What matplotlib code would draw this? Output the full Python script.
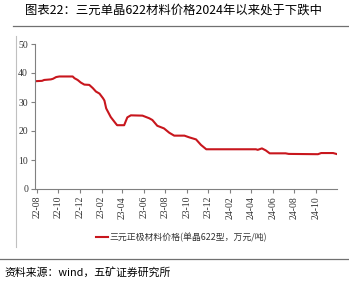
import matplotlib
matplotlib.use("Agg")
import matplotlib.pyplot as plt
import matplotlib.dates as mdates
import pandas as pd
from matplotlib.lines import Line2D

plt.rcParams['font.family'] = ['Noto Sans CJK SC', 'DejaVu Sans']

# 数据
dates = ["2022-08-01", "2022-08-16", "2022-08-22", "2022-09-10", "2022-09-16",
         "2022-09-25", "2022-10-04", "2022-11-11", "2022-11-16", "2022-11-25",
         "2022-12-04", "2022-12-14", "2022-12-28", "2023-01-07", "2023-01-16",
         "2023-01-26", "2023-02-05", "2023-02-09", "2023-02-14", "2023-02-27",
         "2023-03-13", "2023-03-17", "2023-04-06", "2023-04-15", "2023-04-25",
         "2023-05-28", "2023-06-16", "2023-06-25", "2023-07-09", "2023-07-28",
         "2023-08-12", "2023-08-26", "2023-09-24", "2023-10-08", "2023-10-27",
         "2023-11-10", "2023-11-25", "2024-02-10", "2024-04-14", "2024-04-19",
         "2024-05-01", "2024-05-12", "2024-05-23", "2024-07-07", "2024-07-16",
         "2024-10-07", "2024-10-16", "2024-11-19", "2024-11-28"]
price = [37.2, 37.3, 37.6, 37.8, 38.0,
         38.6, 38.8, 38.8, 38.2, 37.6,
         36.7, 36.0, 35.9, 34.8, 33.6,
         32.9, 31.3, 30.5, 27.8, 24.8,
         22.6, 22.0, 22.0, 24.7, 25.4,
         25.3, 24.4, 23.8, 21.8, 20.9,
         19.4, 18.4, 18.4, 17.8, 17.1,
         15.2, 13.7, 13.7, 13.7, 13.5,
         14.0, 13.3, 12.3, 12.3, 12.1,
         12.0, 12.4, 12.4, 12.1]
series_label = "三元正极材料价格(单晶622型，万元/吨)"
title = "图表22：三元单晶622材料价格2024年以来处于下跌中"
source = "资料来源：wind，五矿证券研究所"
yticks = [0, 10, 20, 30, 40, 50]

W, H = 349, 282
fig = plt.figure(figsize=(W / 100, H / 100), dpi=100)

ax = fig.add_axes([35 / W, 1 - 189 / H, (337 - 35) / W, (189 - 44) / H])
x = pd.to_datetime(dates)
ax.plot(x, price, color='#C8161D', lw=1.5)

ax.set_ylim(0, 50)
ax.set_yticks(yticks)
ax.set_xlim(pd.Timestamp("2022-07-27"), pd.Timestamp("2024-11-30"))
ax.xaxis.set_major_locator(mdates.MonthLocator(bymonth=[2, 4, 6, 8, 10, 12]))
ax.xaxis.set_major_formatter(mdates.DateFormatter('%y-%m'))

for s in ['top', 'right']:
    ax.spines[s].set_visible(False)
for s in ['left', 'bottom']:
    ax.spines[s].set_color('#808080')
    ax.spines[s].set_linewidth(0.8)
ax.tick_params(axis='both', direction='out', length=3, width=0.8, color='#808080',
               labelsize=7, pad=2, labelcolor='#333333')
for lab in ax.get_xticklabels() + ax.get_yticklabels():
    lab.set_fontfamily('Liberation Serif')
for lab in ax.get_xticklabels():
    lab.set_rotation(90)

# 图例
fig.add_artist(Line2D([96 / W, 108 / W], [1 - 237 / H] * 2, color='#C8161D', lw=1.5))
fig.text(109 / W, 1 - 237 / H, series_label, fontsize=6.4, va='center', ha='left',
         color='#333333')

# 标题与框线
fig.text(25 / W, 1 - 10 / H, title, fontsize=8.9, va='center', ha='left')
fig.add_artist(Line2D([13 / W, 1], [1 - 25.5 / H] * 2, color='#707070', lw=0.9))
fig.add_artist(Line2D([15.5 / W] * 2, [1 - 35.5 / H, 1 - 247 / H], color='#c0c0c0', lw=0.8))
fig.add_artist(Line2D([0, 1], [1 - 259 / H] * 2, color='#707070', lw=0.9))
fig.text(4 / W, 1 - 272.5 / H, source, fontsize=7.8, va='center', ha='left')

fig.savefig("out.png", dpi=100)
